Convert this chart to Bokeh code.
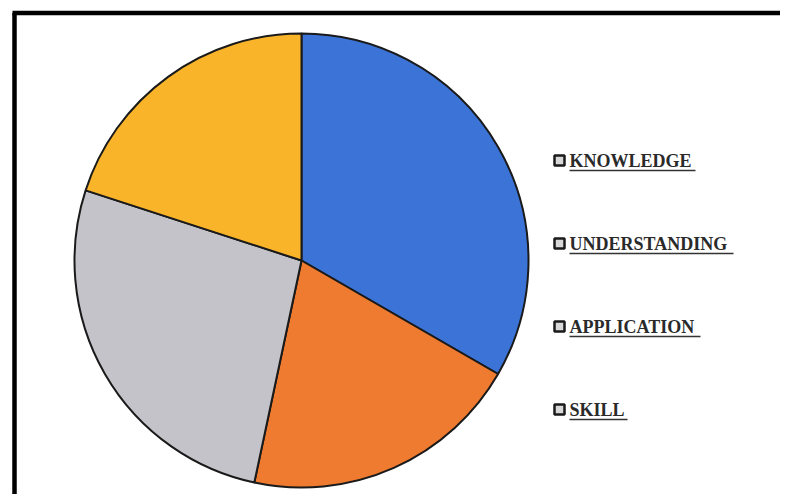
import math
from bokeh.plotting import figure
from bokeh.models import Range1d, ColumnDataSource
from bokeh.core.properties import value
from bokeh.embed import file_html
from bokeh.resources import INLINE

# ---- data ----
categories = ["KNOWLEDGE", "UNDERSTANDING", "APPLICATION", "SKILL"]
values = [5, 3, 4, 3]
colors = ["#3b74d6", "#ee7b30", "#c3c3c9", "#f9b42a"]

# ---- layout constants (pixels) ----
W, H = 780, 494
cx, cy, R = 301, 234, 227
leg_x = 559
leg_text_x = 569
leg_y0 = 334
leg_step = 83
underline_len = [126, 164, 131, 58]

total = float(sum(values))
starts, ends = [], []
acc = 0.0
for v in values:
    starts.append(math.pi / 2 - 2 * math.pi * acc / total)
    acc += v
    ends.append(math.pi / 2 - 2 * math.pi * acc / total)

src = ColumnDataSource(dict(cat=categories, val=values, color=colors,
                            start=starts, end=ends))

p = figure(width=W, height=H, output_backend="svg", toolbar_location=None,
           x_range=Range1d(0, W), y_range=Range1d(0, H), min_border=0)
p.axis.visible = False
p.grid.visible = False
p.outline_line_color = None
p.background_fill_color = "white"
p.border_fill_color = "white"

# frame border (left and top visible; right/bottom out of view)
p.line([14, 14], [-10, 481.5], line_color="black", line_width=4.5)
p.line([12, W + 10], [481.5, 481.5], line_color="black", line_width=4.5)

p.wedge(x=cx, y=cy, radius=R, start_angle="start", end_angle="end",
        direction="clock", fill_color="color", line_color="#1a1a1a",
        line_width=2, source=src)

ys = [leg_y0 - i * leg_step for i in range(len(categories))]
lsrc = ColumnDataSource(dict(x=[leg_text_x] * len(categories), y=ys,
                             t=categories, mx=[leg_x] * len(categories)))
p.scatter(x="mx", y="y", marker="square", size=10, fill_color="#d8d8d8",
          line_color="#1a1a1a", line_width=2.5, source=lsrc)
p.text(x="x", y="y", text="t", source=lsrc, text_font=value("Liberation Serif"),
       text_font_size="18px", text_font_style="bold", text_color="#2a2a2a",
       text_baseline="middle", text_align="left")
for y, L in zip(ys, underline_len):
    p.line([leg_text_x, leg_text_x + L], [y - 10, y - 10], line_color="#333333",
           line_width=1.5)

open("out.html", "w").write(file_html(p, INLINE))
